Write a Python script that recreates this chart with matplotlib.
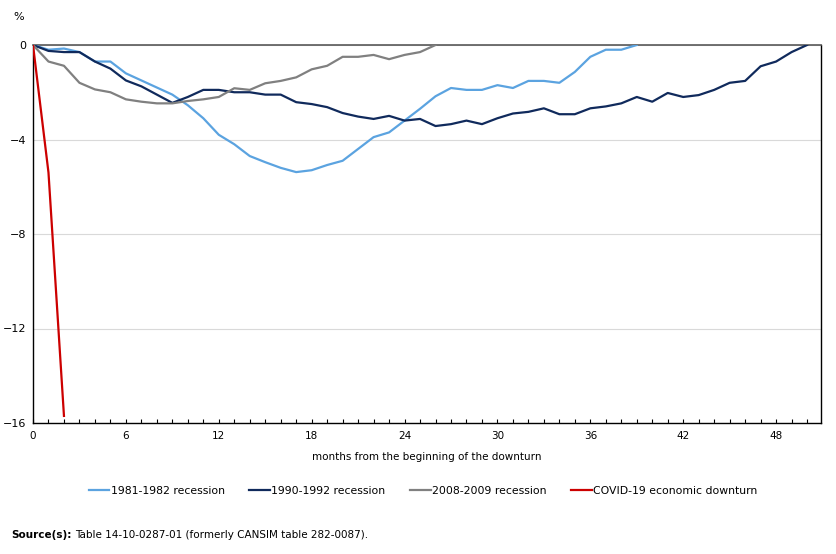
import matplotlib
matplotlib.use("Agg")
import matplotlib.pyplot as plt
from matplotlib.ticker import MultipleLocator

plt.rcParams['font.family'] = ['DejaVu Sans']

# percent change in employment since start of each downturn
rec_1981 = [0, -0.2, -0.15, -0.3, -0.7, -0.7, -1.2, -1.5, -1.8, -2.1, -2.55, -3.1,
            -3.8, -4.2, -4.7, -4.96, -5.2, -5.38, -5.3, -5.08, -4.9, -4.4, -3.9, -3.7,
            -3.2, -2.7, -2.17, -1.82, -1.9, -1.9, -1.7, -1.82, -1.52, -1.52, -1.6,
            -1.14, -0.5, -0.2, -0.2, 0]
rec_1990 = [0, -0.25, -0.3, -0.3, -0.7, -1.0, -1.5, -1.75, -2.1, -2.45, -2.2, -1.9,
            -1.9, -2.0, -2.0, -2.1, -2.1, -2.42, -2.5, -2.63, -2.88, -3.03, -3.13, -3.0,
            -3.2, -3.13, -3.43, -3.35, -3.2, -3.35, -3.1, -2.9, -2.83, -2.68, -2.93,
            -2.93, -2.68, -2.6, -2.47, -2.2, -2.4, -2.03, -2.2, -2.12, -1.9, -1.6,
            -1.52, -0.9, -0.7, -0.3, 0]
rec_2008 = [0, -0.7, -0.88, -1.6, -1.88, -2.0, -2.3, -2.4, -2.47, -2.47, -2.37, -2.3,
            -2.2, -1.83, -1.9, -1.62, -1.52, -1.37, -1.03, -0.88, -0.5, -0.5, -0.42,
            -0.6, -0.42, -0.3, 0]
covid = [0, -5.4, -15.7]

series = [
    ("1981-1982 recession", rec_1981, "#5ba3e0"),
    ("1990-1992 recession", rec_1990, "#102a5c"),
    ("2008-2009 recession", rec_2008, "#808080"),
    ("COVID-19 economic downturn", covid, "#cc0000"),
]

fig = plt.figure(figsize=(8.37, 5.54), dpi=100)
ax = fig.add_axes([33 / 837, 1 - 423 / 554, (821 - 33) / 837, (423 - 45) / 554])

for label, vals, col in series:
    ax.plot(range(len(vals)), vals, color=col, lw=1.6, label=label,
            solid_joinstyle='round', zorder=3)

ax.set_xlim(0, 50.9)
ax.set_ylim(-16, 0)
ax.set_yticks([0, -4, -8, -12, -16])
ax.xaxis.set_major_locator(MultipleLocator(6))
ax.xaxis.set_minor_locator(MultipleLocator(1))
ax.tick_params(axis='x', which='both', direction='in', length=3, width=0.8,
               labelsize=7.5, pad=6)
ax.tick_params(axis='y', length=0, labelsize=8, pad=5)
ax.grid(axis='y', color='#d9d9d9', lw=0.8, zorder=0)

for s in ['left', 'bottom', 'right']:
    ax.spines[s].set_color('black')
    ax.spines[s].set_linewidth(1)
ax.spines['top'].set_color('#595959')
ax.spines['top'].set_linewidth(1.2)

ax.set_xlabel("months from the beginning of the downturn", fontsize=7.5, labelpad=8)
fig.text(13 / 837, 1 - 17 / 554, "%", fontsize=8, va='center')

ax.legend(loc='upper center', bbox_to_anchor=(0.495, -0.14), ncol=4, frameon=False,
          fontsize=7.8, handlelength=1.9, handletextpad=0.1, columnspacing=2.3)

src = fig.text(11 / 837, 1 - 535 / 554, "Source(s):", fontsize=7.5,
               fontweight='bold', va='center')
ax.annotate("Table 14-10-0287-01 (formerly CANSIM table 282-0087).",
            xy=(1, 0.5), xycoords=src, xytext=(3, 0), textcoords='offset points',
            fontsize=7.5, va='center', annotation_clip=False)

fig.savefig("out.png", dpi=100)
